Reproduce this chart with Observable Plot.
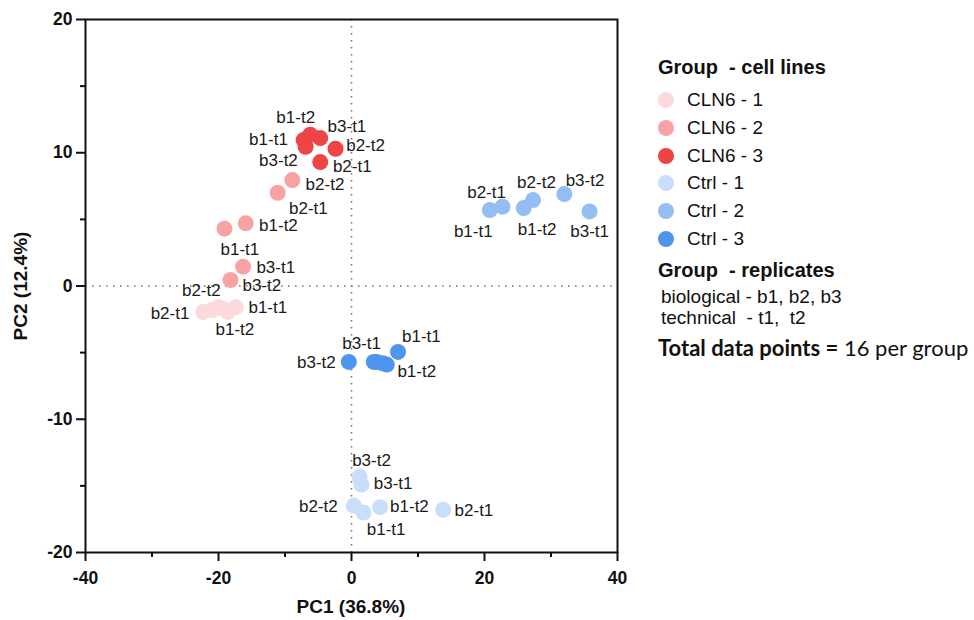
<!DOCTYPE html>
<html>
<head>
<meta charset="utf-8">
<script src="https://cdn.jsdelivr.net/npm/d3@7"></script>
<script src="https://cdn.jsdelivr.net/npm/@observablehq/plot@0.6"></script>
<style>
  body { margin: 0; background: #fff; }
  #wrap { position: relative; width: 974px; height: 620px; font-family: "Liberation Sans", Arial, sans-serif; color: #111; }
  #chart { position: absolute; left: 0; top: 0; }
  .ttl { position: absolute; font-weight: bold; font-size: 19px; white-space: nowrap; }
  .lg { position: absolute; white-space: nowrap; font-size: 19px; line-height: 24px; }
  .dot { position: absolute; width: 16px; height: 16px; border-radius: 50%; }
</style>
</head>
<body>
<div id="wrap">
  <div id="chart"></div>
</div>
<script>
// ---------- data ----------
const groups = ["CLN6 - 1", "CLN6 - 2", "CLN6 - 3", "Ctrl - 1", "Ctrl - 2", "Ctrl - 3"];
const groupColors = ["#fbd9dc", "#f8a3a3", "#ef4446", "#c9def8", "#93bdf3", "#4d95ee"];
const sampleIds = ["b1-t1", "b1-t2", "b2-t1", "b2-t2", "b3-t1", "b3-t2"];

// PC1 / PC2 per group, in sampleIds order
const pc1 = [
  [-17.4, -18.6, -22.3, -20.0, -21.0, -19.3],   // CLN6 - 1
  [-19.1, -15.9, -11.1, -8.9, -16.3, -18.2],    // CLN6 - 2
  [-7.2, -6.2, -4.7, -2.4, -4.7, -6.9],         // CLN6 - 3
  [1.8, 4.3, 13.8, 0.35, 1.5, 1.2],             // Ctrl - 1
  [20.8, 25.9, 22.7, 27.3, 35.8, 32.0],         // Ctrl - 2
  [7.0, 5.3, 3.8, 4.7, 3.35, -0.4]              // Ctrl - 3
];
const pc2 = [
  [-1.6, -1.95, -1.95, -1.6, -1.8, -1.7],
  [4.3, 4.7, 7.0, 7.95, 1.45, 0.45],
  [10.95, 11.35, 9.3, 10.3, 11.1, 10.45],
  [-17.0, -16.6, -16.8, -16.5, -14.9, -14.3],
  [5.7, 5.85, 5.95, 6.45, 5.6, 6.9],
  [-4.95, -5.9, -5.7, -5.8, -5.7, -5.7]
];
// label anchor (left edge, vertical middle) in PC units; null = no label shown
const labelPC1 = [
  [-15.5, -20.45, -30.2, -25.5, null, null],
  [-19.7, -13.9, -9.4, -6.9, -14.3, -16.4],
  [-15.4, -11.3, -2.8, -0.8, -3.6, -13.9],
  [2.3, 5.8, 15.5, -7.9, 3.35, 0.1],
  [15.4, 25.0, 17.4, 24.9, 32.9, 32.2],
  [7.6, 6.9, null, null, -1.4, -8.2]
];
const labelPC2 = [
  [-1.6, -3.3, -2.05, -0.35, null, null],
  [2.7, 4.5, 5.8, 7.6, 1.35, 0.0],
  [11.0, 12.65, 9.0, 10.55, 11.95, 9.4],
  [-18.25, -16.55, -16.85, -16.55, -14.8, -13.1],
  [4.05, 4.2, 7.0, 7.75, 4.05, 7.9],
  [-3.8, -6.45, null, null, -4.35, -5.75]
];
const xTicks = [-40, -20, 0, 20, 40];
const xMinor = [-30, -10, 10, 30];
const yTicks = [-20, -10, 0, 10, 20];
const yMinor = [-15, -5, 5, 15];
const xTitle = "PC1 (36.8%)";
const yTitle = "PC2 (12.4%)";

// ---------- build table ----------
const points = [];
groups.forEach((g, gi) => sampleIds.forEach((id, si) => {
  points.push({group: g, id, x: pc1[gi][si], y: pc2[gi][si], lx: labelPC1[gi][si], ly: labelPC2[gi][si]});
}));
const labels = points.filter(d => d.lx != null);

const axisCommon = {label: null, strokeWidth: 2, stroke: "#111", tickFormat: d => String(d), fontSize: 17.5, fontWeight: "bold", fill: "#111"};

const chart = Plot.plot({
  width: 640,
  height: 620,
  marginLeft: 85,
  marginRight: 23,
  marginTop: 19,
  marginBottom: 68,
  style: {fontFamily: "Liberation Sans, Arial, sans-serif", color: "#111", background: "white"},
  x: {domain: [-40, 40]},
  y: {domain: [-20, 20]},
  color: {domain: groups, range: groupColors},
  marks: [
    Plot.ruleX([0], {stroke: "#777", strokeWidth: 1.6, strokeDasharray: "1.6,5.4"}),
    Plot.ruleY([0], {stroke: "#777", strokeWidth: 1.6, strokeDasharray: "1.6,5.4"}),
    Plot.dot(points, {x: "x", y: "y", fill: "group", r: 8}),
    Plot.text(labels, {x: "lx", y: "ly", text: "id", textAnchor: "start", fontSize: 17, fill: "#1a1a1a"}),
    Plot.axisX({...axisCommon, ticks: xTicks, tickSize: 9, tickPadding: 10}),
    Plot.axisX({label: null, ticks: xMinor, tickSize: 5, strokeWidth: 2, stroke: "#111", fill: "none"}),
    Plot.axisY({...axisCommon, ticks: yTicks, tickSize: 9, tickPadding: 4}),
    Plot.axisY({label: null, ticks: yMinor, tickSize: 5, strokeWidth: 2, stroke: "#111", fill: "none"}),
    Plot.frame({stroke: "#111", strokeWidth: 2})
  ]
});
const wrap = document.getElementById("wrap");
document.getElementById("chart").appendChild(chart);

// axis titles
const xt = document.createElement("div");
xt.className = "ttl"; xt.textContent = xTitle;
xt.style.left = "351px"; xt.style.top = "607px"; xt.style.transform = "translate(-50%,-50%)";
wrap.appendChild(xt);
const yt = document.createElement("div");
yt.className = "ttl"; yt.textContent = yTitle;
yt.style.left = "21px"; yt.style.top = "286px"; yt.style.transform = "translate(-50%,-50%) rotate(-90deg)";
wrap.appendChild(yt);

// legend
function addText(html, left, cy, extra) {
  const el = document.createElement("div");
  el.className = "lg"; el.innerHTML = html;
  el.style.left = left + "px"; el.style.top = (cy - 12) + "px";
  if (extra) Object.assign(el.style, extra);
  wrap.appendChild(el);
}
addText("Group&nbsp; - cell lines", 658, 67, {fontWeight: "bold", fontSize: "20px"});
groups.forEach((g, i) => {
  const cy = 100 + i * 27.8;
  const d = document.createElement("div");
  d.className = "dot"; d.style.background = groupColors[i];
  d.style.left = "658px"; d.style.top = (cy - 8) + "px";
  wrap.appendChild(d);
  addText(g, 687, cy);
});
addText("Group&nbsp; - replicates", 658, 270, {fontWeight: "bold", fontSize: "20px"});
addText("biological - b1, b2, b3", 661, 297);
addText("technical&nbsp; - t1,&nbsp; t2", 661, 318);
addText("<b>Total data points =</b> 16 per group", 658, 348, {fontFamily: "Lato, sans-serif", fontSize: "22px"});
</script>
</body>
</html>
